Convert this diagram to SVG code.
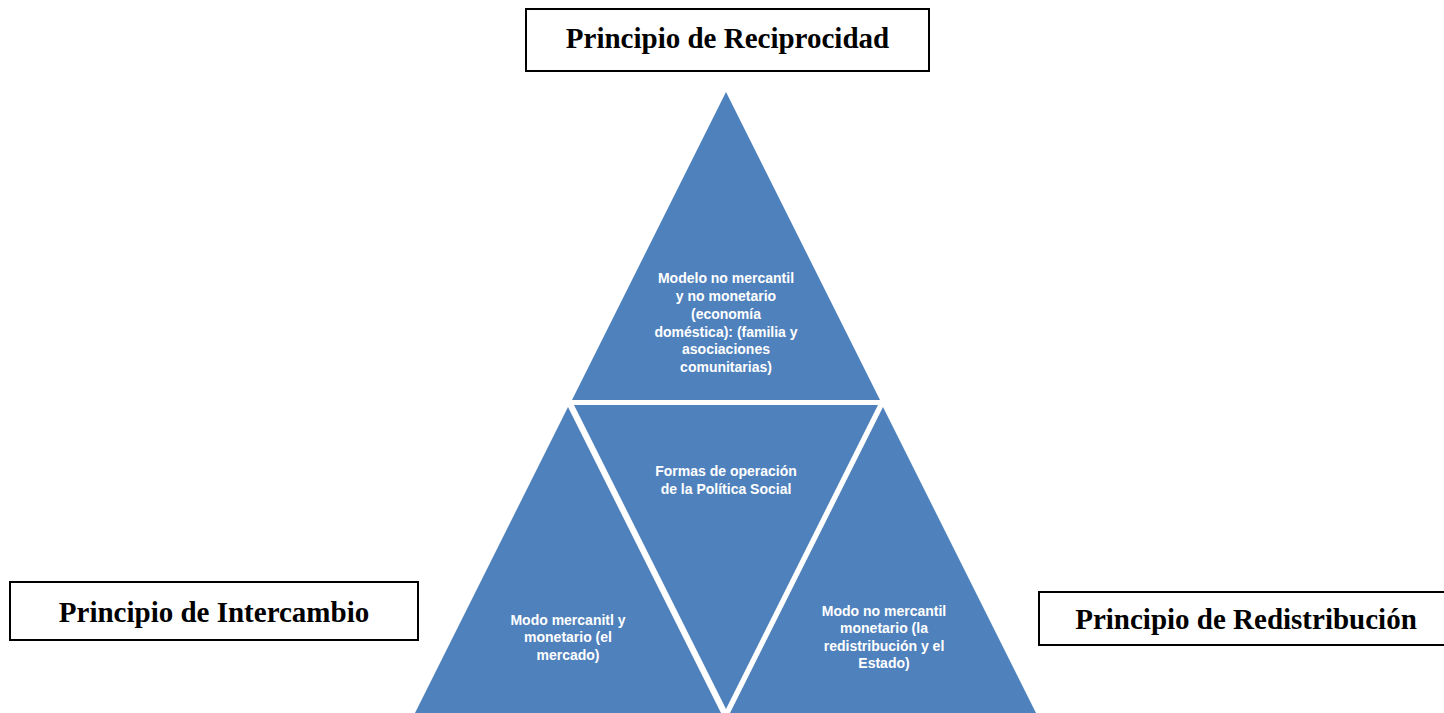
<svg xmlns="http://www.w3.org/2000/svg" width="1444" height="713" viewBox="0 0 1444 713">
<style>
.tri{fill:#4F81BD;stroke:none}
.t{font-family:"Liberation Sans",Arial,sans-serif;font-weight:bold;font-size:14px;fill:#FFFFFF;text-anchor:middle}
.box{fill:#FFFFFF;stroke:#000000;stroke-width:2}
.bt{font-family:"Liberation Serif","Times New Roman",serif;font-weight:bold;font-size:29px;fill:#000000;text-anchor:middle}
</style>
<rect width="1444" height="713" fill="#FFFFFF"/>
<g id="connectors"></g>
<g id="reciprocidad-label">
<rect class="box" x="526" y="9" width="403" height="62"/>
<text class="bt" x="727.5" y="48">Principio de Reciprocidad</text>
</g>
<g id="intercambio-label">
<rect class="box" x="10" y="582" width="408" height="58"/>
<text class="bt" x="214" y="622">Principio de Intercambio</text>
</g>
<g id="redistribucion-label">
<rect class="box" x="1039" y="592" width="415" height="53"/>
<text class="bt" x="1246" y="629">Principio de Redistribución</text>
</g>
<g id="top-triangle">
<polygon class="tri" points="726,92 880,400 572,400"/>
<text class="t" x="726" y="283">Modelo no mercantil</text>
<text class="t" x="726" y="301">y no monetario</text>
<text class="t" x="726" y="318.5">(economía</text>
<text class="t" x="726" y="336.5">doméstica): (familia y</text>
<text class="t" x="726" y="354">asociaciones</text>
<text class="t" x="726" y="372">comunitarias)</text>
</g>
<g id="center-triangle">
<polygon class="tri" points="574,405 878,405 726,709"/>
<text class="t" x="726" y="475.5">Formas de operación</text>
<text class="t" x="726" y="493.5">de la Política Social</text>
</g>
<g id="left-triangle">
<polygon class="tri" points="568,407 721,713 415,713"/>
<text class="t" x="568" y="624.5">Modo mercanitl y</text>
<text class="t" x="568" y="642">monetario (el</text>
<text class="t" x="568" y="659.5">mercado)</text>
</g>
<g id="right-triangle">
<polygon class="tri" points="883,407 1036,713 730,713"/>
<text class="t" x="884" y="615.5">Modo no mercantil</text>
<text class="t" x="884" y="633">monetario (la</text>
<text class="t" x="884" y="650.5">redistribución y el</text>
<text class="t" x="884" y="668">Estado)</text>
</g>
</svg>
